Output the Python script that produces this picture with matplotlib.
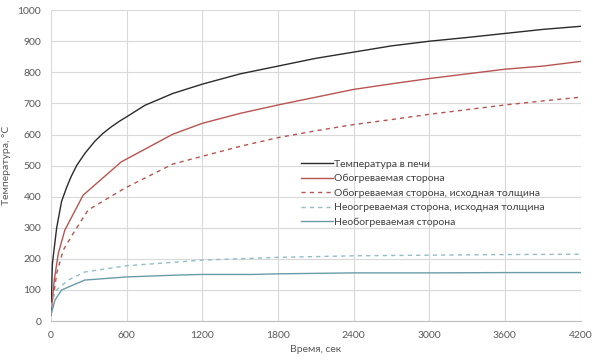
import matplotlib
matplotlib.use("Agg")
import matplotlib.pyplot as plt

# Данные (время, сек; температура, °C)
t_furnace = [0, 11, 45, 84, 124, 160, 203, 270, 347, 410, 479, 540, 600, 745, 966,
             1200, 1500, 1800, 2100, 2400, 2700, 3000, 3300, 3600, 3900, 4200]
T_furnace = [20, 185, 300, 385, 430, 465, 500, 540, 578, 603, 625, 642, 657, 694, 732,
             762, 795, 820, 845, 865, 885, 900, 912, 925, 938, 948]

t_hot = [0, 26, 58, 110, 255, 557, 966, 1200, 1500, 1800, 2100, 2400,
         2700, 3000, 3300, 3600, 3900, 4200]
T_hot = [20, 132, 218, 293, 405, 512, 601, 636, 668, 695, 720, 745,
         763, 780, 795, 810, 820, 835]

t_hot0 = [0, 45, 97, 176, 294, 583, 966, 1200, 1500, 1800, 2100, 2400, 2700,
          3000, 3300, 3600, 3900, 4200]
T_hot0 = [20, 153, 228, 282, 357, 427, 505, 530, 562, 590, 612, 632, 648,
          665, 680, 695, 708, 720]

t_cold0 = [0, 10, 45, 137, 268, 600, 1200, 1800, 2400, 3000, 3600, 4200]
T_cold0 = [20, 70, 100, 132, 158, 178, 196, 205, 210, 212, 214, 215]

t_cold = [0, 32, 84, 268, 600, 1000, 1200, 1600, 1800, 2400, 3000, 3600, 4200]
T_cold = [20, 68, 100, 132, 142, 148, 150, 150, 152, 155, 155, 156, 156]

labels = ['Температура в печи', 'Обогреваемая сторона',
          'Обогреваемая сторона, исходная толщина',
          'Неоогреваемая сторона, исходная толщина',
          'Необогреваемая сторона']

plt.rcParams['font.family'] = ['Lato', 'DejaVu Sans']

fig = plt.figure(figsize=(5.93, 3.62), dpi=100)
ax = fig.add_axes([0.086, 0.113, 0.893, 0.859])

ax.plot(t_furnace, T_furnace, color='#2b2b2b', lw=1.0, label=labels[0])
ax.plot(t_hot, T_hot, color='#b85450', lw=1.0, label=labels[1])
ax.plot(t_hot0, T_hot0, color='#b85450', lw=1.0, ls=(0, (3, 3)), label=labels[2])
ax.plot(t_cold0, T_cold0, color='#93bcc6', lw=1.0, ls=(0, (3, 3)), label=labels[3])
ax.plot(t_cold, T_cold, color='#6a9ca8', lw=1.0, label=labels[4])

ax.set_xlim(0, 4200)
ax.set_ylim(0, 1000)
ax.set_xticks(range(0, 4201, 600))
ax.set_yticks(range(0, 1001, 100))
ax.grid(True, color='#d9d9d9', lw=0.8)
ax.set_axisbelow(True)
for s in ['top', 'right', 'left']:
    ax.spines[s].set_visible(False)
ax.spines['bottom'].set_color('#bfbfbf')
ax.tick_params(length=0, labelsize=7.5, colors='#595959', pad=7)

ax.set_xlabel('Время, сек', fontsize=7.5, color='#595959', labelpad=4)
ax.set_ylabel('Температура, °C', fontsize=7.5, color='#595959', labelpad=5)

ax.legend(loc='upper left', bbox_to_anchor=(0.455, 0.55), frameon=False, fontsize=7.5,
          handlelength=3.0, handletextpad=0.1, labelspacing=0.5, labelcolor='#404040')

fig.savefig('out.png', dpi=100)
